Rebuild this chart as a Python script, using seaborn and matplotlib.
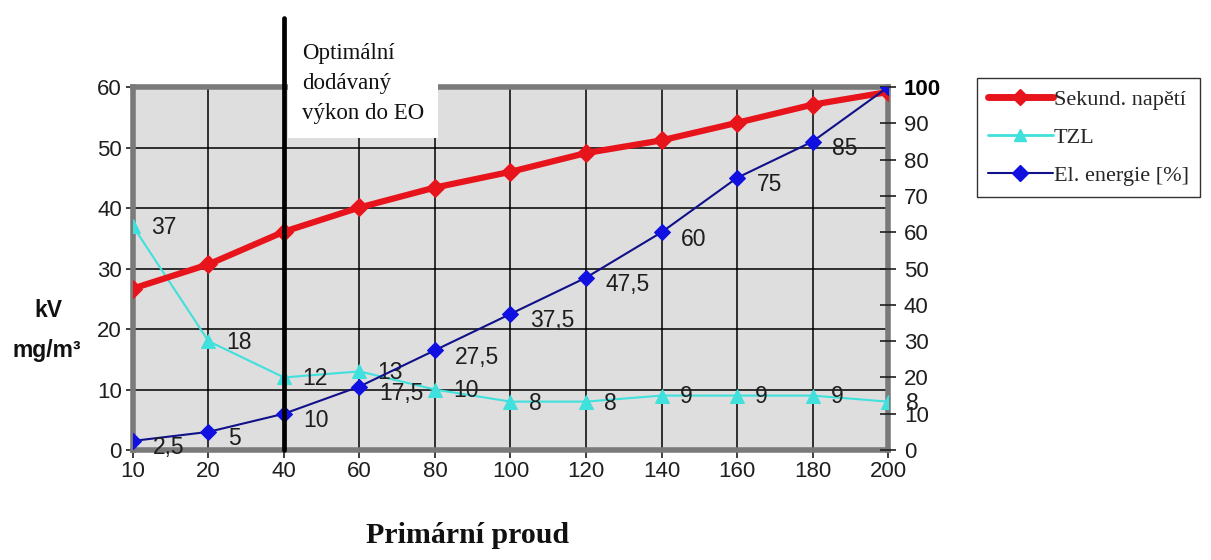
import numpy as np
import pandas as pd
import matplotlib
matplotlib.use("Agg")
import matplotlib.pyplot as plt
import seaborn as sns
from matplotlib.lines import Line2D

# Data
proud = [10, 20, 40, 60, 80, 100, 120, 140, 160, 180, 200]
sekund_napeti = [26.7, 30.7, 36.1, 40.1, 43.4, 46.0, 49.1, 51.2, 54.1, 57.1, 59.2]
tzl = [37, 18, 12, 13, 10, 8, 8, 9, 9, 9, 8]
el_energie = [2.5, 5, 10, 17.5, 27.5, 37.5, 47.5, 60, 75, 85, 100]
left_ticks = [0, 10, 20, 30, 40, 50, 60]
right_ticks = [0, 10, 20, 30, 40, 50, 60, 70, 80, 90, 100]

sns.set_theme(style="white")
plt.rcParams["font.family"] = ["Liberation Sans", "DejaVu Sans"]
SERIF = ["Liberation Serif", "DejaVu Serif"]
TXT = "#1e1e1e"

pos = np.arange(len(proud))
df = pd.DataFrame({"pos": pos, "napeti": sekund_napeti, "tzl": tzl, "energie": el_energie})

fig = plt.figure(figsize=(12.11, 5.6), dpi=100)
ax = fig.add_axes([0.1098, 0.1964, 0.6235, 0.648])
ax.set_facecolor("#dedede")

RED = "#e8141c"
CYAN = "#40e0dc"
NAVY = "#10108a"
BLUE = "#1010e0"

sns.lineplot(data=df, x="pos", y="napeti", ax=ax, color=RED, lw=4.5,
             marker="D", markersize=9, markeredgecolor=RED, zorder=5)
sns.lineplot(data=df, x="pos", y="tzl", ax=ax, color=CYAN, lw=1.5,
             marker="^", markersize=10, markeredgecolor=CYAN, zorder=4)

ax.set_xlim(0, len(proud) - 1)
ax.set_ylim(0, 60)
ax.set_yticks(left_ticks)
ax.set_yticklabels([str(v) for v in left_ticks], fontsize=16, color=TXT)
ax.set_xticks(pos)
ax.set_xticklabels([str(v) for v in proud], fontsize=16, color=TXT)
ax.tick_params(axis="y", length=5, width=1.2, color=TXT, pad=3, direction="out", left=True)
ax.tick_params(axis="x", length=6, width=1.2, color=TXT, pad=2, direction="out", bottom=True)
ax.grid(True, color="black", lw=1.1)
ax.set_axisbelow(True)
ax.set_xlabel("")
ax.set_ylabel("")
for side in ["top", "left", "right", "bottom"]:
    ax.spines[side].set_color("#7a7a7a")
    ax.spines[side].set_linewidth(4)

# secondary axis for percent
ax2 = ax.twinx()
sns.lineplot(data=df, x="pos", y="energie", ax=ax2, color=NAVY, lw=1.5,
             marker="D", markersize=8, markerfacecolor=BLUE, markeredgecolor=BLUE, zorder=6)
ax2.set_ylim(0, 100)
ax2.set_yticks(right_ticks)
ax2.set_yticklabels([str(v) for v in right_ticks], fontsize=16, color=TXT)
ax2.get_yticklabels()[-1].set_fontweight("bold")
ax2.get_yticklabels()[-1].set_color("black")
ax2.tick_params(axis="y", length=11, width=1.2, color=TXT, direction="inout", pad=6, right=True)
ax2.set_ylabel("")
ax2.grid(False)
for side in ["top", "left", "right", "bottom"]:
    ax2.spines[side].set_visible(False)

# value labels
for x, v in zip(pos, tzl):
    ax.annotate(str(v), (x, v), xytext=(13, -1), textcoords="offset points",
                fontsize=16.5, color=TXT, va="center", ha="left", zorder=7)
for x, v in zip(pos[:-1], el_energie[:-1]):
    ax2.annotate(f"{v:g}".replace(".", ","), (x, v), xytext=(14, -5),
                 textcoords="offset points", fontsize=16.5, color=TXT,
                 va="center", ha="left", zorder=7)

# optimum marker line with its note
ax2.text(0.2494, 0.924, "Optimální\ndodávaný\nvýkon do EO", transform=fig.transFigure,
         family=SERIF, fontsize=16.5, va="top", ha="left", linespacing=1.58, color="#111111",
         bbox=dict(facecolor="white", edgecolor="none", boxstyle="square,pad=0.62"),
         zorder=9, clip_on=False)
ax2.axvline(2, ymin=0, ymax=1.19, color="black", lw=3.4, clip_on=False, zorder=10)

# axis titles
fig.text(0.040, 0.446, "kV", fontsize=16.5, fontweight="bold", ha="center", va="center", color="#111111")
fig.text(0.039, 0.375, "mg/m³", fontsize=16.5, fontweight="bold", ha="center", va="center", color="#111111")
fig.text(0.386, 0.043, "Primární proud", family=SERIF,
         fontsize=21.5, fontweight="bold", ha="center", va="center", color="#111111")

# legend
handles = [
    Line2D([], [], color=RED, lw=5, marker="D", markersize=8, markeredgecolor=RED),
    Line2D([], [], color=CYAN, lw=2, marker="^", markersize=9, markeredgecolor=CYAN),
    Line2D([], [], color=NAVY, lw=1.5, marker="D", markersize=8, markerfacecolor=BLUE, markeredgecolor=BLUE),
]
leg = fig.legend(handles, ["Sekund. napětí", "TZL", "El. energie [%]"],
                 loc="upper left", bbox_to_anchor=(0.8068, 0.861), frameon=True,
                 fancybox=False, edgecolor="black", handlelength=2.9, handletextpad=0.05,
                 borderpad=0.5, labelspacing=0.8, borderaxespad=0,
                 prop={"family": SERIF, "size": 16})
leg.get_frame().set_linewidth(1.0)

fig.savefig("out.png", dpi=100)
